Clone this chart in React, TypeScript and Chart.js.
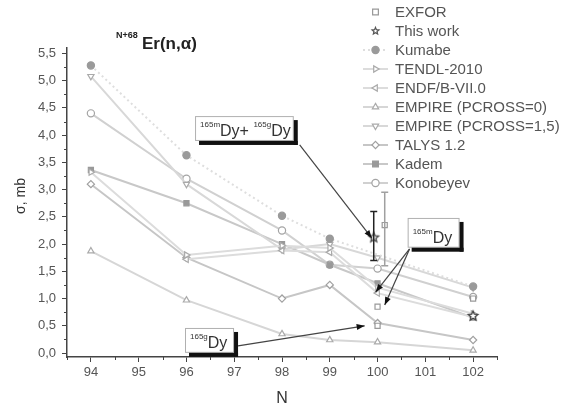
import React, { useEffect, useRef } from "react";
import { Chart, registerables } from "chart.js";
Chart.register(...registerables);

// ---- data ----
const xTickValues = [94, 95, 96, 97, 98, 99, 100, 101, 102];

const exforN = [100, 100, 100.15, 102];
const exforV = [0.5, 0.85, 2.35, 1.0];
const exforLo = [null, null, 1.6, null];
const exforHi = [null, null, 2.95, null];

const thisWorkN = [99.92, 102];
const thisWorkV = [2.12, 0.68];
const thisWorkLo = [1.7, null];
const thisWorkHi = [2.6, null];

const kumabeN = [94, 96, 98, 99, 102];
const kumabeV = [5.28, 3.63, 2.52, 2.1, 1.22];

const tendlN = [94, 96, 98, 99, 100, 102];
const tendlV = [3.32, 1.8, 1.97, 1.93, 1.2, 0.72];

const endfN = [96, 98, 99, 100, 102];
const endfV = [1.72, 1.88, 1.85, 1.1, 0.66];

const empire0N = [94, 96, 98, 99, 100, 102];
const empire0V = [1.87, 0.97, 0.35, 0.24, 0.2, 0.05];

const empire15N = [94, 96, 98, 99, 100, 102];
const empire15V = [5.08, 3.1, 1.9, 2.0, 1.75, 1.2];

const talysN = [94, 96, 98, 99, 100, 102];
const talysV = [3.1, 1.75, 1.0, 1.25, 0.55, 0.24];

const kademN = [94, 96, 98, 99, 100, 102];
const kademV = [3.36, 2.75, 2.0, 1.62, 1.28, 0.65];

const konobeyevN = [94, 96, 98, 99, 100, 102];
const konobeyevV = [4.4, 3.2, 2.25, 1.62, 1.55, 1.03];

const legendLabels = [
  "EXFOR",
  "This work",
  "Kumabe",
  "TENDL-2010",
  "ENDF/B-VII.0",
  "EMPIRE (PCROSS=0)",
  "EMPIRE (PCROSS=1,5)",
  "TALYS 1.2",
  "Kadem",
  "Konobeyev",
];

// ---- styles ----
type Sty = { style: string; rot: number; fill: string; stroke: string; line: boolean; lineColor: string; dash?: number[] };
const styles: Sty[] = [
  { style: "rect", rot: 0, fill: "#fff", stroke: "#999", line: false, lineColor: "#ccc" },
  { style: "star", rot: 0, fill: "#fff", stroke: "#555", line: false, lineColor: "#ccc" },
  { style: "circle", rot: 0, fill: "#9a9a9a", stroke: "#9a9a9a", line: true, lineColor: "#dedede", dash: [2, 3] },
  { style: "triangle", rot: 90, fill: "#fff", stroke: "#aaa", line: true, lineColor: "#dcdcdc" },
  { style: "triangle", rot: -90, fill: "#fff", stroke: "#aaa", line: true, lineColor: "#dcdcdc" },
  { style: "triangle", rot: 0, fill: "#fff", stroke: "#aaa", line: true, lineColor: "#d6d6d6" },
  { style: "triangle", rot: 180, fill: "#fff", stroke: "#aaa", line: true, lineColor: "#d8d8d8" },
  { style: "rectRot", rot: 0, fill: "#fff", stroke: "#a0a0a0", line: true, lineColor: "#c6c6c6" },
  { style: "rect", rot: 0, fill: "#999", stroke: "#999", line: true, lineColor: "#c8c8c8" },
  { style: "circle", rot: 0, fill: "#fff", stroke: "#a4a4a4", line: true, lineColor: "#d0d0d0" },
];

// annotation boxes in data coordinates
const boxes = [
  { x0: 96.18, x1: 98.33, y0: 3.82, y1: 4.35, parts: [["165m", true], ["Dy+ ", false], ["165g", true], ["Dy", false]] },
  { x0: 100.63, x1: 101.8, y0: 1.86, y1: 2.48, parts: [["165m", true], ["Dy", false]] },
  { x0: 95.97, x1: 97.08, y0: -0.07, y1: 0.46, parts: [["165g", true], ["Dy", false]] },
];
const arrows = [
  { x0: 98.37, y0: 3.82, x1: 99.88, y1: 2.11 },
  { x0: 100.67, y0: 1.91, x1: 99.96, y1: 1.12 },
  { x0: 100.67, y0: 1.91, x1: 100.15, y1: 0.88 },
  { x0: 97.08, y0: 0.13, x1: 99.73, y1: 0.5 },
];

function starPath(ctx: CanvasRenderingContext2D, cx: number, cy: number, r: number) {
  ctx.beginPath();
  for (let i = 0; i < 10; i++) {
    const a = -Math.PI / 2 + (i * Math.PI) / 5;
    const rr = i % 2 === 0 ? r : r * 0.45;
    ctx.lineTo(cx + rr * Math.cos(a), cy + rr * Math.sin(a));
  }
  ctx.closePath();
}

function makeStar(r: number, stroke: string) {
  const c = document.createElement("canvas");
  const s = Math.ceil(r * 2 + 4);
  c.width = s;
  c.height = s;
  const ctx = c.getContext("2d")!;
  starPath(ctx, s / 2, s / 2, r);
  ctx.fillStyle = "#fff";
  ctx.fill();
  ctx.strokeStyle = stroke;
  ctx.lineWidth = 1.3;
  ctx.stroke();
  return c;
}

function drawMarker(ctx: CanvasRenderingContext2D, s: Sty, x: number, y: number, r: number) {
  ctx.save();
  ctx.translate(x, y);
  ctx.rotate((s.rot * Math.PI) / 180);
  ctx.beginPath();
  if (s.style === "circle") ctx.arc(0, 0, r, 0, Math.PI * 2);
  else if (s.style === "rect") ctx.rect(-r * 0.8, -r * 0.8, r * 1.6, r * 1.6);
  else if (s.style === "rectRot") {
    ctx.moveTo(0, -r); ctx.lineTo(r, 0); ctx.lineTo(0, r); ctx.lineTo(-r, 0); ctx.closePath();
  } else if (s.style === "triangle") {
    ctx.moveTo(0, -r); ctx.lineTo(r * 0.87, r * 0.5); ctx.lineTo(-r * 0.87, r * 0.5); ctx.closePath();
  } else if (s.style === "star") starPath(ctx, 0, 0, r);
  ctx.fillStyle = s.fill;
  ctx.fill();
  ctx.strokeStyle = s.stroke;
  ctx.lineWidth = 1.2;
  ctx.stroke();
  ctx.restore();
}

function pts(n: number[], v: number[]) {
  return n.map((x, i) => ({ x, y: v[i] }));
}

const FONT = "'Liberation Sans', Arial, sans-serif";

export default function App() {
  const ref = useRef<HTMLCanvasElement>(null);
  useEffect(() => {
    const star = makeStar(5, "#444");
    const series = [
      pts(exforN, exforV), pts(thisWorkN, thisWorkV), pts(kumabeN, kumabeV), pts(tendlN, tendlV),
      pts(endfN, endfV), pts(empire0N, empire0V), pts(empire15N, empire15V), pts(talysN, talysV),
      pts(kademN, kademV), pts(konobeyevN, konobeyevV),
    ];
    const datasets = series.map((data, i) => {
      const s = styles[i];
      return {
        label: legendLabels[i],
        data,
        showLine: s.line,
        borderColor: s.lineColor,
        borderWidth: 2,
        borderDash: s.dash || [],
        pointStyle: s.style === "star" ? star : s.style,
        pointRotation: s.rot,
        pointRadius: 3.6,
        pointBackgroundColor: s.fill,
        pointBorderColor: s.stroke,
        pointBorderWidth: 1.2,
        fill: false,
      };
    });

    const deco = {
      id: "deco",
      afterDatasetsDraw(chart: any) {
        const ctx: CanvasRenderingContext2D = chart.ctx;
        const xs = chart.scales.x, ys = chart.scales.y;
        const errs = [
          { n: exforN, lo: exforLo, hi: exforHi, c: "#a0a0a0" },
          { n: thisWorkN, lo: thisWorkLo, hi: thisWorkHi, c: "#222" },
        ];
        errs.forEach((e) => {
          e.n.forEach((n, i) => {
            const lo = e.lo[i], hi = e.hi[i];
            if (lo == null || hi == null) return;
            const px = xs.getPixelForValue(n);
            const p0 = ys.getPixelForValue(lo), p1 = ys.getPixelForValue(hi);
            ctx.save();
            ctx.strokeStyle = e.c;
            ctx.lineWidth = 1.5;
            ctx.beginPath();
            ctx.moveTo(px, p0); ctx.lineTo(px, p1);
            ctx.moveTo(px - 3.5, p0); ctx.lineTo(px + 3.5, p0);
            ctx.moveTo(px - 3.5, p1); ctx.lineTo(px + 3.5, p1);
            ctx.stroke();
            ctx.restore();
          });
        });
      },
      afterDraw(chart: any) {
        const ctx: CanvasRenderingContext2D = chart.ctx;
        const xs = chart.scales.x, ys = chart.scales.y;
        const ca = chart.chartArea;
        ctx.save();
        // minor ticks
        ctx.strokeStyle = "#444";
        ctx.lineWidth = 1;
        ctx.beginPath();
        for (let v = 93.5; v <= 102.51; v += 0.5) {
          if (Math.abs(v - Math.round(v)) < 0.01) continue;
          const px = Math.round(xs.getPixelForValue(v)) + 0.5;
          ctx.moveTo(px, ca.bottom); ctx.lineTo(px, ca.bottom + 3);
        }
        for (let v = 0.25; v <= 5.51; v += 0.5) {
          const py = Math.round(ys.getPixelForValue(v)) + 0.5;
          ctx.moveTo(ca.left, py); ctx.lineTo(ca.left - 3, py);
        }
        ctx.stroke();

        // arrows
        arrows.forEach((a) => {
          const x0 = xs.getPixelForValue(a.x0), y0 = ys.getPixelForValue(a.y0);
          const x1 = xs.getPixelForValue(a.x1), y1 = ys.getPixelForValue(a.y1);
          ctx.strokeStyle = "#444";
          ctx.lineWidth = 1.2;
          ctx.beginPath(); ctx.moveTo(x0, y0); ctx.lineTo(x1, y1); ctx.stroke();
          const ang = Math.atan2(y1 - y0, x1 - x0);
          ctx.fillStyle = "#111";
          ctx.beginPath();
          ctx.moveTo(x1, y1);
          ctx.lineTo(x1 - 8 * Math.cos(ang) + 3 * Math.sin(ang), y1 - 8 * Math.sin(ang) - 3 * Math.cos(ang));
          ctx.lineTo(x1 - 8 * Math.cos(ang) - 3 * Math.sin(ang), y1 - 8 * Math.sin(ang) + 3 * Math.cos(ang));
          ctx.closePath(); ctx.fill();
        });

        // boxes with drop shadow on bottom/right
        boxes.forEach((b) => {
          const l = xs.getPixelForValue(b.x0), r = xs.getPixelForValue(b.x1);
          const t = ys.getPixelForValue(b.y1), bt = ys.getPixelForValue(b.y0);
          ctx.fillStyle = "#fff";
          ctx.fillRect(l, t, r - l - 4, bt - t - 4);
          ctx.strokeStyle = "#b0b0b0";
          ctx.lineWidth = 1;
          ctx.strokeRect(l + 0.5, t + 0.5, r - l - 5, bt - t - 5);
          ctx.fillStyle = "#111";
          ctx.fillRect(l + 4, bt - 4, r - l - 4, 4);
          ctx.fillRect(r - 4, t + 4, 4, bt - t - 4);
          let x = l + 5;
          const base = bt - 9;
          ctx.textBaseline = "alphabetic";
          ctx.textAlign = "left";
          ctx.fillStyle = "#333";
          (b.parts as any[]).forEach(([txt, sup]) => {
            ctx.font = sup ? `8px ${FONT}` : `16px ${FONT}`;
            ctx.fillText(txt, x, sup ? base - 9 : base);
            x += ctx.measureText(txt).width;
          });
        });

        // title
        ctx.fillStyle = "#222";
        ctx.textBaseline = "alphabetic";
        ctx.textAlign = "left";
        ctx.font = `bold 9px ${FONT}`;
        ctx.fillText("N+68", 116, 38);
        ctx.font = `bold 17px ${FONT}`;
        ctx.fillText("Er(n,\u03b1)", 142, 49);

        // axis titles
        ctx.font = `16px ${FONT}`;
        ctx.textAlign = "center";
        ctx.fillStyle = "#333";
        ctx.fillText("N", xs.getPixelForValue(98), 403);
        ctx.save();
        ctx.translate(25, 196);
        ctx.rotate(-Math.PI / 2);
        ctx.font = `14px ${FONT}`;
        ctx.fillText("\u03c3, mb", 0, 0);
        ctx.restore();

        // legend
        ctx.textAlign = "left";
        ctx.textBaseline = "middle";
        ctx.font = `15px ${FONT}`;
        legendLabels.forEach((lab, i) => {
          const y = 12 + i * 19;
          const s = styles[i];
          if (s.line) {
            ctx.strokeStyle = s.lineColor;
            ctx.lineWidth = 2;
            ctx.setLineDash(s.dash || []);
            ctx.beginPath(); ctx.moveTo(363, y); ctx.lineTo(388, y); ctx.stroke();
            ctx.setLineDash([]);
          }
          drawMarker(ctx, s, 375.5, y, 3.6);
          ctx.fillStyle = "#555";
          ctx.fillText(lab, 395, y + 1);
        });
        ctx.restore();
      },
    };

    const chart = new Chart(ref.current!, {
      type: "scatter",
      data: { datasets: datasets as any },
      options: {
        animation: false,
        responsive: false,
        layout: { padding: { left: 0, top: 48, right: 85, bottom: 0 } },
        plugins: { legend: { display: false }, tooltip: { enabled: false }, title: { display: false } },
        scales: {
          x: {
            type: "linear",
            min: 93.5,
            max: 102.5,
            afterFit: (s: any) => { s.height = 57; },
            afterBuildTicks: (s: any) => { s.ticks = xTickValues.map((v) => ({ value: v })); },
            ticks: { stepSize: 1, includeBounds: false, font: { size: 13, family: FONT }, color: "#555", padding: 3, callback: (v: any) => String(v) },
            grid: { display: true, drawOnChartArea: false, drawTicks: true, tickLength: 5, color: "#444", lineWidth: 1 },
            border: { display: true, color: "#444", width: 1.5 },
          },
          y: {
            type: "linear",
            min: -0.073,
            max: 5.6,
            afterFit: (s: any) => { s.width = 67; },
            ticks: {
              stepSize: 0.5,
              includeBounds: false,
              font: { size: 13, family: FONT },
              color: "#555",
              padding: 6,
              callback: (v: any) => Number(v).toFixed(1).replace(".", ","),
            },
            grid: { display: true, drawOnChartArea: false, drawTicks: true, tickLength: 5, color: "#444", lineWidth: 1 },
            border: { display: true, color: "#444", width: 1.5 },
          },
        },
      },
      plugins: [deco],
    });
    return () => chart.destroy();
  }, []);
  return (
    <div style={{ position: "absolute", left: 0, top: 0, width: 582, height: 414, background: "#fff" }}>
      <canvas ref={ref} width={582} height={414} style={{ display: "block" }} />
    </div>
  );
}
